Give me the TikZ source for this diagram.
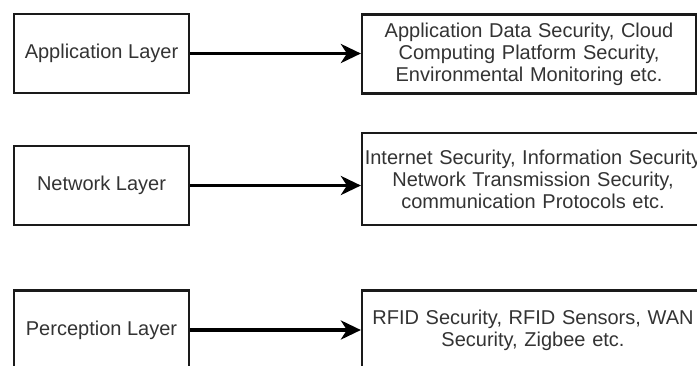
\documentclass[tikz,border=0pt]{standalone}
\usepackage{fontspec}
\setmainfont{Liberation Sans}
\usetikzlibrary{arrows.meta}
\definecolor{txtgray}{HTML}{333333}
\definecolor{linegray}{HTML}{1A1A1A}
\newcommand{\BoxFont}{\fontsize{20}{22}\selectfont}

\begin{document}
\begin{tikzpicture}[x=1pt,y=-1pt,
		layerbox/.style={draw=linegray, line width=2.2pt, minimum width=175pt, minimum height=79pt, inner sep=0pt, text=txtgray, font=\BoxFont},
		secbox/.style={layerbox, minimum width=334pt, text width=334pt, align=center},
		widebox/.style={secbox, minimum width=342pt, text width=342pt},
		flow/.style={line width=3.5pt, -{Stealth[length=20pt,width=19pt,inset=6pt]}}]
		\useasboundingbox (0,0) rectangle (697,365);
		\clip (0,0) rectangle (697,365);
		% layers
		\node[layerbox] (app) at (101.5,53.5) {Application Layer};
		\node[layerbox] (net) at (101.5,185.5) {Network Layer};
		\node[layerbox] (per) at (101.5,330) {Perception Layer};
		% security boxes
		\node[secbox] (appsec) at (529,54) {Application Data Security, Cloud\\Computing Platform Security,\\Environmental Monitoring etc.};
		\node[widebox, minimum height=92pt] (netsec) at (533,179) {\mbox{Internet Security, Information Security}\\Network Transmission Security,\\communication Protocols etc.};
		\node[widebox] (persec) at (533,330) {RFID Security, RFID Sensors, WAN\\Security, Zigbee etc.};
		% arrows
		\draw[flow] (app.east) -- (app.east -| appsec.west);
		\draw[flow] (net.east) -- (net.east -| netsec.west);
		\draw[flow] (per.east) -- (per.east -| persec.west);
	\end{tikzpicture}
\end{document}
